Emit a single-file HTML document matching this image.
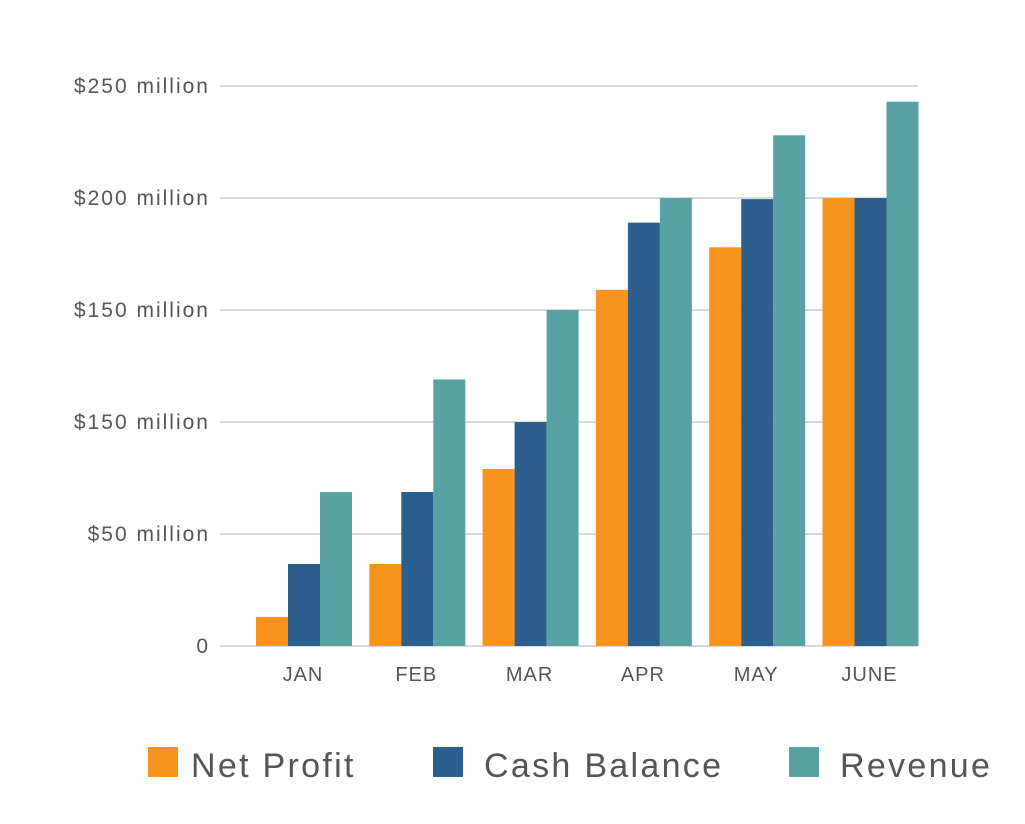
<!DOCTYPE html>
<html><head><meta charset="utf-8"><style>
body{margin:0;background:#fff;width:1025px;height:819px;overflow:hidden}
svg text{font-family:"Liberation Sans",sans-serif;fill:#555}
</style></head><body>
<svg width="1025" height="819">
<g id="grid"></g><g id="bars"></g><g id="labels"></g>
<g>
<rect x="148" y="747" width="30" height="30" fill="#F7931E"/>
<text x="191" y="777" font-size="34" letter-spacing="2.3">Net Profit</text>
<rect x="433" y="747" width="30" height="30" fill="#2C5F8D"/>
<text x="484" y="777" font-size="34" letter-spacing="2.3">Cash Balance</text>
<rect x="789" y="747" width="30" height="30" fill="#58A2A4"/>
<text x="840" y="777" font-size="34" letter-spacing="2.3">Revenue</text>
</g>
</svg>
<script>
const categories=["JAN","FEB","MAR","APR","MAY","JUNE"];
const netProfit=[13,36.6,79,159,178,200];
const cashBalance=[36.6,68.75,100,189,199.5,200];
const revenue=[68.75,119,150,200,228,243];
const tickValues=[0,50,100,150,200,250];
const tickLabels=["0","$50 million","$150 million","$150 million","$200 million","$250 million"];
const NS="http://www.w3.org/2000/svg";
const y=v=>646-v*2.24;
const x=i=>303+i*113.3;
function mk(tag,attrs,parent,txt){const e=document.createElementNS(NS,tag);for(const k in attrs)e.setAttribute(k,attrs[k]);if(txt!==undefined)e.textContent=txt;document.getElementById(parent).appendChild(e);return e;}
tickValues.forEach((v,i)=>{
 const l=mk("line",{x1:220,x2:918,y1:y(v),y2:y(v),stroke:"#d9d9d9","stroke-width":2},"grid");
 
 
 const t=mk("text",{x:210,y:y(v)+7,"text-anchor":"end","font-size":21,"letter-spacing":2},"labels",tickLabels[i]);
 
 
});
const series=[[netProfit,"#F7931E","net-profit"],[cashBalance,"#2C5F8D","cash-balance"],[revenue,"#58A2A4","revenue"]];
categories.forEach((c,i)=>{
 series.forEach((s,j)=>{
  const v=s[0][i];
  const r=mk("rect",{x:x(i)-47+j*32,y:y(v),width:32,height:646-y(v),fill:s[1]},"bars");
  
  
 });
 const t=mk("text",{x:x(i),y:681,"text-anchor":"middle","font-size":20,"letter-spacing":1},"labels",c);
 
 
});
</script>
</body></html>
